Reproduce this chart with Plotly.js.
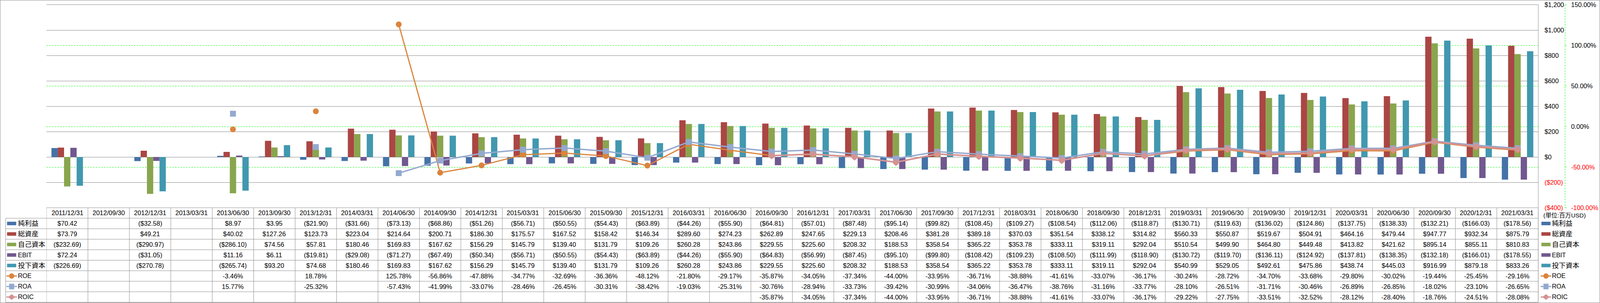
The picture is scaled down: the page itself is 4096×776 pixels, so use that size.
<!DOCTYPE html>
<html><head><meta charset="utf-8">
<script src="https://cdn.plot.ly/plotly-3.0.1.min.js"></script>
<style>html,body{margin:0;padding:0;background:#fff;overflow:hidden}#chart{width:4096px;height:776px}</style>
</head><body><div id="chart"></div>
<script>
const dates = ["2011/12/31","2012/09/30","2012/12/31","2013/03/31","2013/06/30","2013/09/30","2013/12/31","2014/03/31","2014/06/30","2014/09/30","2014/12/31","2015/03/31","2015/06/30","2015/09/30","2015/12/31","2016/03/31","2016/06/30","2016/09/30","2016/12/31","2017/03/31","2017/06/30","2017/09/30","2017/12/31","2018/03/31","2018/06/30","2018/09/30","2018/12/31","2019/03/31","2019/06/30","2019/09/30","2019/12/31","2020/03/31","2020/06/30","2020/09/30","2020/12/31","2021/03/31"];
const netIncome = [70.42,null,-32.58,null,8.97,3.95,-21.90,-31.66,-73.13,-68.86,-51.26,-56.71,-50.55,-54.43,-63.89,-44.26,-55.90,-64.81,-57.01,-87.48,-95.14,-99.82,-108.45,-109.27,-108.54,-112.06,-118.87,-130.71,-119.63,-136.02,-124.86,-137.75,-138.33,-132.21,-166.03,-178.56];
const totalAssets = [73.79,null,49.21,null,40.02,127.26,123.73,223.04,214.64,200.71,186.30,175.57,167.52,158.42,146.34,289.60,274.23,262.89,247.65,229.13,208.46,381.28,389.18,370.03,351.54,338.12,314.82,560.33,550.87,519.67,504.91,464.16,479.44,947.77,932.34,875.79];
const equity = [-232.69,null,-290.97,null,-286.10,74.56,57.81,180.46,169.83,167.62,156.29,145.79,139.40,131.79,109.26,260.28,243.86,229.55,225.60,208.32,188.53,358.54,365.22,353.78,333.11,319.11,292.04,510.54,499.90,464.80,449.48,413.82,421.62,895.14,855.11,810.83];
const ebit = [72.24,null,-31.05,null,11.16,6.11,-19.81,-29.08,-71.27,-67.49,-50.34,-56.71,-50.55,-54.43,-63.89,-44.26,-55.90,-64.83,-56.99,-87.45,-95.10,-99.80,-108.42,-109.23,-108.50,-111.99,-118.90,-130.72,-119.70,-136.11,-124.92,-137.81,-138.35,-132.18,-166.01,-178.55];
const investedCapital = [-226.69,null,-270.78,null,-265.74,93.20,74.68,180.46,169.83,167.62,156.29,145.79,139.40,131.79,109.26,260.28,243.86,229.55,225.60,208.32,188.53,358.54,365.22,353.78,333.11,319.11,292.04,540.99,529.05,492.61,475.86,438.74,445.03,916.99,879.18,833.26];
const roe = [null,null,null,null,-3.46,null,18.78,null,125.78,-56.86,-47.88,-34.77,-32.69,-36.36,-48.12,-21.80,-29.17,-35.87,-34.05,-37.34,-44.00,-33.95,-36.71,-38.88,-41.61,-33.07,-36.17,-30.24,-28.72,-34.70,-33.68,-29.80,-30.02,-19.44,-25.45,-29.16];
const roa = [null,null,null,null,15.77,null,-25.32,null,-57.43,-41.99,-33.07,-28.46,-26.45,-30.31,-38.42,-19.03,-25.31,-30.76,-28.94,-33.73,-39.42,-30.99,-34.06,-36.47,-38.76,-31.16,-33.77,-28.10,-26.51,-31.71,-30.46,-26.89,-26.85,-18.02,-23.10,-26.65];
const roic = [null,null,null,null,null,null,null,null,null,null,null,null,null,null,null,null,null,-35.87,-34.05,-37.34,-44.00,-33.95,-36.71,-38.88,-41.61,-33.07,-36.17,-29.22,-27.75,-33.51,-32.52,-28.12,-28.40,-18.76,-24.51,-28.08];
const leftTicks = [-400,-200,0,200,400,600,800,1000,1200];
const rightTicks = [-100,-50,0,50,100,150];
const unitLabel = "(単位:百万USD)";

const barSeries = [
  {name:"純利益", data:netIncome, color:"#4572A7"},
  {name:"総資産", data:totalAssets, color:"#AA4643"},
  {name:"自己資本", data:equity, color:"#89A54E"},
  {name:"EBIT", data:ebit, color:"#71588F"},
  {name:"投下資本", data:investedCapital, color:"#4198AF"}
];
const lineSeries = [
  {name:"ROE", data:roe, color:"#DB843D", symbol:"circle", size:15, width:3},
  {name:"ROA", data:roa, color:"#93A9CF", symbol:"square", size:15, width:3.5},
  {name:"ROIC", data:roic, color:"#D49392", symbol:"diamond", size:15, width:4}
];

const W=4096,H=776,L=119,R=158,T=12,B=244;
const PW=W-L-R, PH=H-T-B;
const px2x = p => (p-L)/PW;
const py2y = p => (T+PH-p)/PH;
const rowH = 26.9;
const tableTop = T+PH;
const tableBottom = tableTop + 9*rowH;
const rowC = k => tableTop + (k+0.5)*rowH;
const FONT = "'Liberation Sans', Arial, 'Noto Sans CJK JP', sans-serif";
const RED = "#FF0000";

function money(v){
  if(v==null) return "";
  const s = "$" + Math.abs(v).toLocaleString("en-US",{minimumFractionDigits:2,maximumFractionDigits:2});
  return v<0 ? "("+s+")" : s;
}
function pct(v){ return v==null ? "" : v.toFixed(2)+"%"; }

const data = [];
barSeries.forEach(s => data.push({type:"bar", x:dates, y:s.data, name:s.name, marker:{color:s.color}, yaxis:"y", hoverinfo:"skip"}));
lineSeries.forEach(s => data.push({type:"scatter", mode:"lines+markers", x:dates, y:s.data, name:s.name, yaxis:"y2",
  line:{color:s.color, width:s.width}, marker:{symbol:s.symbol, size:s.size, color:s.color}, connectgaps:false, hoverinfo:"skip"}));

const shapes = [];
const TBL = "#8C8C8C";
function pline(x0,y0,x1,y1,color,width,dash){
  shapes.push({type:"line", xref:"paper", yref:"paper", x0:px2x(x0), x1:px2x(x1), y0:py2y(y0), y1:py2y(y1), line:{color, width, dash:dash||"solid"}, layer:"above"});
}
// table horizontal lines
pline(L, tableTop, L+PW, tableTop, TBL, 1);
for(let k=1;k<=9;k++) pline(14.5, tableTop+k*rowH, L+PW, tableTop+k*rowH, TBL, 1);
// table vertical lines at category boundaries
for(let i=0;i<=dates.length;i++){
  shapes.push({type:"line", xref:"x", yref:"paper", x0:i-0.5, x1:i-0.5, y0:py2y(tableTop), y1:py2y(tableBottom), line:{color:TBL,width:1}, layer:"above"});
}
pline(14.5, tableTop+rowH, 14.5, tableBottom, TBL, 1);
// plot right border & top line
pline(L+PW, T, L+PW, tableBottom, TBL, 1);
pline(L, T, L+PW, T, "#868686", 1);
// outer frame
shapes.push({type:"rect", xref:"paper", yref:"paper", x0:px2x(0.5), x1:px2x(W-0.5), y0:py2y(H-0.5), y1:py2y(0.5), line:{color:TBL,width:1}, layer:"above"});
// secondary axis dashed line + ticks
const axX = 4006.5;
pline(axX, T, axX, T+PH, "#00FF00", 1, "4px,3px");
rightTicks.forEach(v => {
  const py = T + (150 - v)/250*PH;
  pline(axX, py, axX+4, py, "#00FF00", 1);
});

// legend keys
function legendKey(cx, cy, s, isLine){
  if(!isLine){
    shapes.push({type:"rect", xref:"paper", yref:"paper", x0:px2x(cx-11.7), x1:px2x(cx+11.7), y0:py2y(cy+4.5), y1:py2y(cy-4.5), fillcolor:s.color, line:{width:0}, layer:"above"});
  } else {
    pline(cx-13.5, cy, cx+13.5, cy, s.color, 3);
    if(s.symbol==="circle"){
      shapes.push({type:"circle", xref:"paper", yref:"paper", x0:px2x(cx-6.8), x1:px2x(cx+6.8), y0:py2y(cy+6.8), y1:py2y(cy-6.8), fillcolor:s.color, line:{width:0}, layer:"above"});
    } else if(s.symbol==="square"){
      shapes.push({type:"rect", xref:"paper", yref:"paper", x0:px2x(cx-6.5), x1:px2x(cx+6.5), y0:py2y(cy+7.2), y1:py2y(cy-7.2), fillcolor:s.color, line:{width:0}, layer:"above"});
    } else {
      const p = `M ${px2x(cx-9)} ${py2y(cy)} L ${px2x(cx)} ${py2y(cy-7.5)} L ${px2x(cx+9)} ${py2y(cy)} L ${px2x(cx)} ${py2y(cy+7.5)} Z`;
      shapes.push({type:"path", xref:"paper", yref:"paper", path:p, fillcolor:s.color, line:{width:0}, layer:"above"});
    }
  }
}

const annotations = [];
function note(text, xref, x, py, size, anchor){
  annotations.push({text, xref, yref:"paper", x, y:py2y(py), xanchor:anchor||"center", yanchor:"middle", showarrow:false,
    font:{family:FONT, size:size, color:"#000"}, borderpad:0});
}
// header dates
dates.forEach(d => note(d, "x", d, rowC(0), 16.5));
// rows
const allSeries = barSeries.map(s=>({...s, isLine:false, fmt:money})).concat(lineSeries.map(s=>({...s, isLine:true, fmt:pct})));
allSeries.forEach((s, idx) => {
  const k = idx+1, cy = rowC(k);
  s.data.forEach((v,i) => { if(v!=null) note(s.fmt(v), "x", dates[i], cy, 16.5); });
  const lsize = /[A-Z]/.test(s.name) ? 16 : 17.5;
  legendKey(29.8, cy, s, s.isLine);
  note(s.name, "paper", px2x(45.2), cy, lsize, "left");
  legendKey(3957.7, cy, s, s.isLine);
  note(s.name, "paper", px2x(3972), cy, lsize, "left");
});
note(unitLabel, "paper", px2x(3950), 551.5, 15.4, "left");

const leftText = leftTicks.map(v => v<0 ? `<span style="color:${RED}">($${Math.abs(v).toLocaleString("en-US")})</span>` : "$"+v.toLocaleString("en-US"));
const rightText = rightTicks.map(v => v<0 ? `<span style="color:${RED}">${v.toFixed(2)}%</span>` : v.toFixed(2)+"%");

const layout = {
  width:W, height:H, margin:{l:L,r:R,t:T,b:B,pad:0},
  paper_bgcolor:"#fff", plot_bgcolor:"#fff", showlegend:false,
  barmode:"group", bargap:0.24, bargroupgap:0,
  font:{family:FONT, size:16.5, color:"#000"},
  xaxis:{type:"category", categoryorder:"array", categoryarray:dates, range:[-0.5, dates.length-0.5],
    showticklabels:false, ticks:"", showgrid:false, zeroline:false, showline:false},
  yaxis:{side:"right", range:[-400,1200], tickvals:leftTicks, ticktext:leftText, showgrid:true, gridcolor:"#868686", gridwidth:1,
    zeroline:false, showline:false, ticks:"", ticklabelstandoff:15, tickfont:{family:FONT,size:16.3,color:"#000"}},
  yaxis2:{overlaying:"y", side:"right", range:[-100,150], tickvals:rightTicks, ticktext:rightText, showgrid:true,
    gridcolor:"#00FF00", griddash:"4px,3px", gridwidth:1, zeroline:false, showline:false, ticks:"", ticklabelstandoff:83,
    tickfont:{family:FONT,size:16.3,color:"#000"}},
  shapes, annotations
};
Plotly.newPlot("chart", data, layout, {staticPlot:true, displayModeBar:false});
</script></body></html>
